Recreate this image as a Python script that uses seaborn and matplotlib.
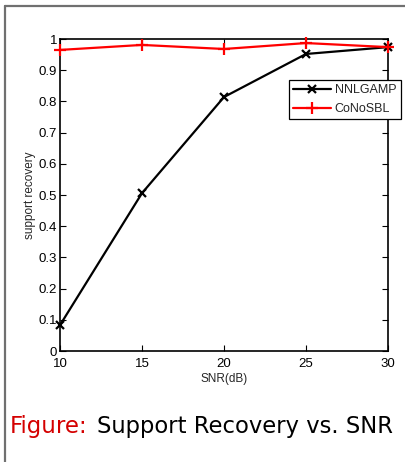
import matplotlib
matplotlib.use("Agg")
import matplotlib.pyplot as plt
import seaborn as sns
import pandas as pd
from matplotlib.lines import Line2D

snr = [10, 15, 20, 25, 30]
nnlgamp = [0.083, 0.506, 0.814, 0.952, 0.974]
conosbl = [0.965, 0.981, 0.968, 0.987, 0.974]
series_names = ["NNLGAMP", "CoNoSBL"]
xticks = [10, 15, 20, 25, 30]
yticks = [0, 0.1, 0.2, 0.3, 0.4, 0.5, 0.6, 0.7, 0.8, 0.9, 1]
ytick_labels = ["0", "0.1", "0.2", "0.3", "0.4", "0.5", "0.6", "0.7", "0.8", "0.9", "1"]

df = pd.DataFrame({
    "SNR": snr * 2,
    "value": nnlgamp + conosbl,
    "method": [series_names[0]] * len(snr) + [series_names[1]] * len(snr),
})

sns.set_style("white")
plt.rcParams["font.family"] = ["Liberation Sans", "DejaVu Sans"]

fig = plt.figure(figsize=(4.05, 4.62), dpi=100)
ax = fig.add_axes([60/405, 111/462, 328/405, 312/462])

sns.lineplot(data=df, x="SNR", y="value", hue="method", style="method",
             palette={"NNLGAMP": "black", "CoNoSBL": "#ff0000"},
             markers={"NNLGAMP": "x", "CoNoSBL": "+"}, dashes=False,
             linewidth=1.6, markersize=6, ax=ax,
             legend=False, zorder=3)
for line in ax.lines:
    line.set_markeredgecolor(line.get_color())
    line.set_markerfacecolor(line.get_color())
    line.set_markeredgewidth(1.6)
    line.set_clip_on(False)
    if line.get_marker() == "+":
        line.set_markersize(9)
    else:
        line.set_markersize(6)

ax.set_xlim(10, 30)
ax.set_ylim(0, 1)
ax.set_xticks(xticks)
ax.set_xticklabels([str(t) for t in xticks])
ax.set_yticks(yticks)
ax.set_yticklabels(ytick_labels)
ax.tick_params(direction="in", length=4, width=0.8, labelsize=9.5,
               top=True, right=True, bottom=True, left=True, colors="black")
ax.tick_params(axis="x", pad=5)
ax.tick_params(axis="y", pad=2)
for s in ax.spines.values():
    s.set_color("black")
    s.set_linewidth(1.2)
ax.set_xlabel("SNR(dB)", fontsize=8.5, labelpad=2)
ax.set_ylabel("support recovery", fontsize=8.5, labelpad=2)

handles = [
    Line2D([], [], color="black", marker="x", lw=1.6, ms=6, mew=1.6),
    Line2D([], [], color="#ff0000", marker="+", lw=1.6, ms=9, mew=1.6),
]
leg = ax.legend(handles, series_names, loc="upper left",
                bbox_to_anchor=(0.698, 0.869), fontsize=9, frameon=True,
                fancybox=False, edgecolor="black", framealpha=1,
                handlelength=3.0, handletextpad=0.3, borderpad=0.35,
                labelspacing=0.55, borderaxespad=0)
leg.get_frame().set_linewidth(0.9)
leg.set_zorder(5)

# slide border
fig.add_artist(Line2D([4.5/405, 4.5/405], [0, 1 - 6/462], color="#707070", lw=1.6,
                      transform=fig.transFigure))
fig.add_artist(Line2D([4.5/405, 1], [1 - 6/462, 1 - 6/462], color="#707070", lw=1.6,
                      transform=fig.transFigure))

# caption
fig.text(10/405, 1 - 427/462, "Figure:", color="#d40000", fontsize=16.5,
         family=["DejaVu Sans"], va="center", ha="left")
fig.text(97/405, 1 - 427/462, "Support Recovery vs. SNR", color="black", fontsize=16.3,
         family=["DejaVu Sans"], va="center", ha="left")

fig.savefig("out.png", dpi=100)
